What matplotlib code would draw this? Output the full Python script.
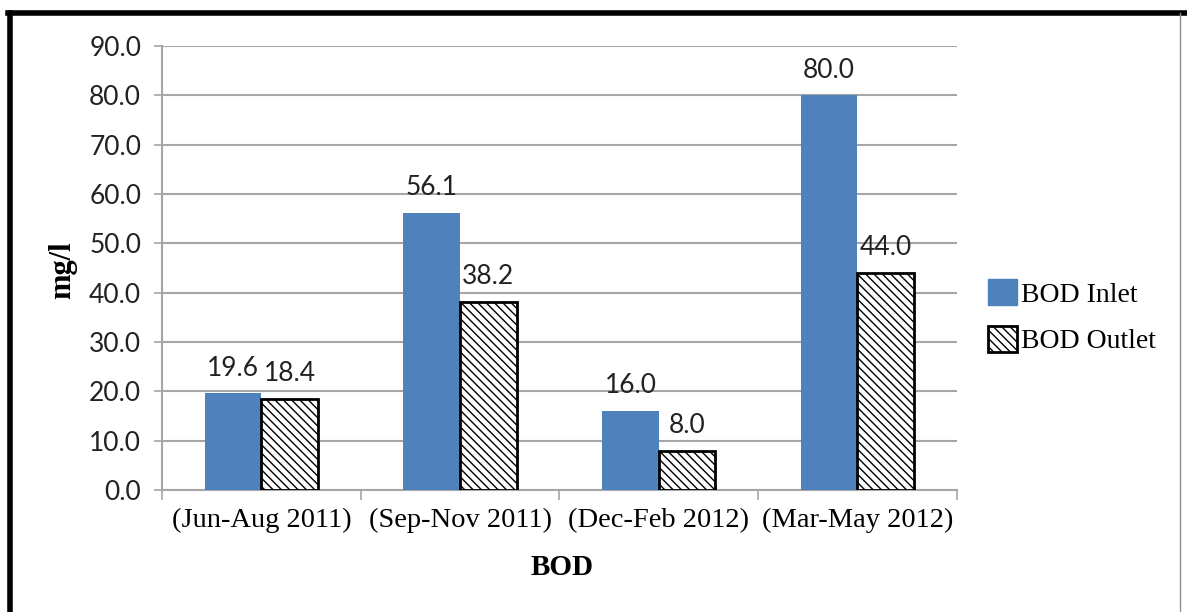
import numpy as np
import matplotlib
matplotlib.use("Agg")
import matplotlib.pyplot as plt
from matplotlib.lines import Line2D
from matplotlib.patches import Patch

periods = ["(Jun-Aug 2011)", "(Sep-Nov 2011)", "(Dec-Feb 2012)", "(Mar-May 2012)"]
bod_inlet = [19.6, 56.1, 16.0, 80.0]
bod_outlet = [18.4, 38.2, 8.0, 44.0]
y_ticks = [0, 10, 20, 30, 40, 50, 60, 70, 80, 90]

plt.rcParams["hatch.linewidth"] = 1.0
plt.rcParams["hatch.color"] = "black"

fig = plt.figure(figsize=(11.87, 6.12), dpi=100)
ax = fig.add_axes([0.1365, 0.1993, 0.6695, 0.7255])

x = np.arange(len(periods))
w = 0.285
blue = "#4F81BD"

ax.bar(x - w / 2, bod_inlet, w, color=blue, zorder=3)
ax.bar(x + w / 2, bod_outlet, w, facecolor="white", edgecolor="black",
       linewidth=2, hatch="\\\\\\\\", zorder=3)

# value labels above each bar
for xi, v in zip(x - w / 2, bod_inlet):
    ax.text(xi, v + 2.6, f"{v:.1f}", ha="center", va="bottom",
            fontsize=19, family="Lato", color="#222222")
for xi, v in zip(x + w / 2, bod_outlet):
    ax.text(xi, v + 2.6, f"{v:.1f}", ha="center", va="bottom",
            fontsize=19, family="Lato", color="#222222")

ax.set_xlim(-0.5, 3.5)
ax.set_ylim(0, 90)
ax.set_yticks(y_ticks)
ax.set_yticklabels([f"{t:.1f}" for t in y_ticks], family="Lato", fontsize=19,
                   color="#222222")
ax.set_xticks(x)
ax.set_xticklabels(periods, family="Liberation Serif", fontsize=20.5)
ax.set_xticks(np.arange(-0.5, 4.0, 1.0), minor=True)
ax.tick_params(axis="x", which="major", length=0, pad=13)
ax.tick_params(axis="x", which="minor", length=7, width=1.2, color="#A6A6A6")
ax.tick_params(axis="y", length=6, width=1.2, color="#A6A6A6", pad=9)

ax.grid(axis="y", color="#A6A6A6", linewidth=1.5, zorder=0)
for s in ["top", "right"]:
    ax.spines[s].set_visible(False)
for s in ["left", "bottom"]:
    ax.spines[s].set_color("#A6A6A6")
    ax.spines[s].set_linewidth(1.5)

ax.set_ylabel("mg/l", family="Liberation Serif", fontweight="bold", fontsize=22)
ax.yaxis.set_label_coords(-0.107, 0.495)
ax.set_xlabel("BOD", family="Liberation Serif", fontweight="bold", fontsize=21)
ax.xaxis.set_label_coords(0.503, -0.145)

handles = [Patch(facecolor=blue, edgecolor=blue),
           Patch(facecolor="white", edgecolor="black", linewidth=2, hatch="\\\\\\\\")]
ax.legend(handles, ["BOD Inlet", "BOD Outlet"], loc="center left",
          bbox_to_anchor=(1.008, 0.39), frameon=False,
          prop={"family": "Liberation Serif", "size": 20},
          handlelength=1.05, handleheight=1.05, handletextpad=0.15, labelspacing=0.65)

# outer frame around the chart
fig.add_artist(Line2D([10 / 1187, 10 / 1187], [0, 1 - 13 / 612],
                      transform=fig.transFigure, color="black", linewidth=4))
fig.add_artist(Line2D([8 / 1187, 1], [1 - 13 / 612, 1 - 13 / 612],
                      transform=fig.transFigure, color="black", linewidth=4))
fig.add_artist(Line2D([1180 / 1187, 1180 / 1187], [0, 1 - 13 / 612],
                      transform=fig.transFigure, color="#909090", linewidth=1))

fig.savefig("out.png", dpi=100)
